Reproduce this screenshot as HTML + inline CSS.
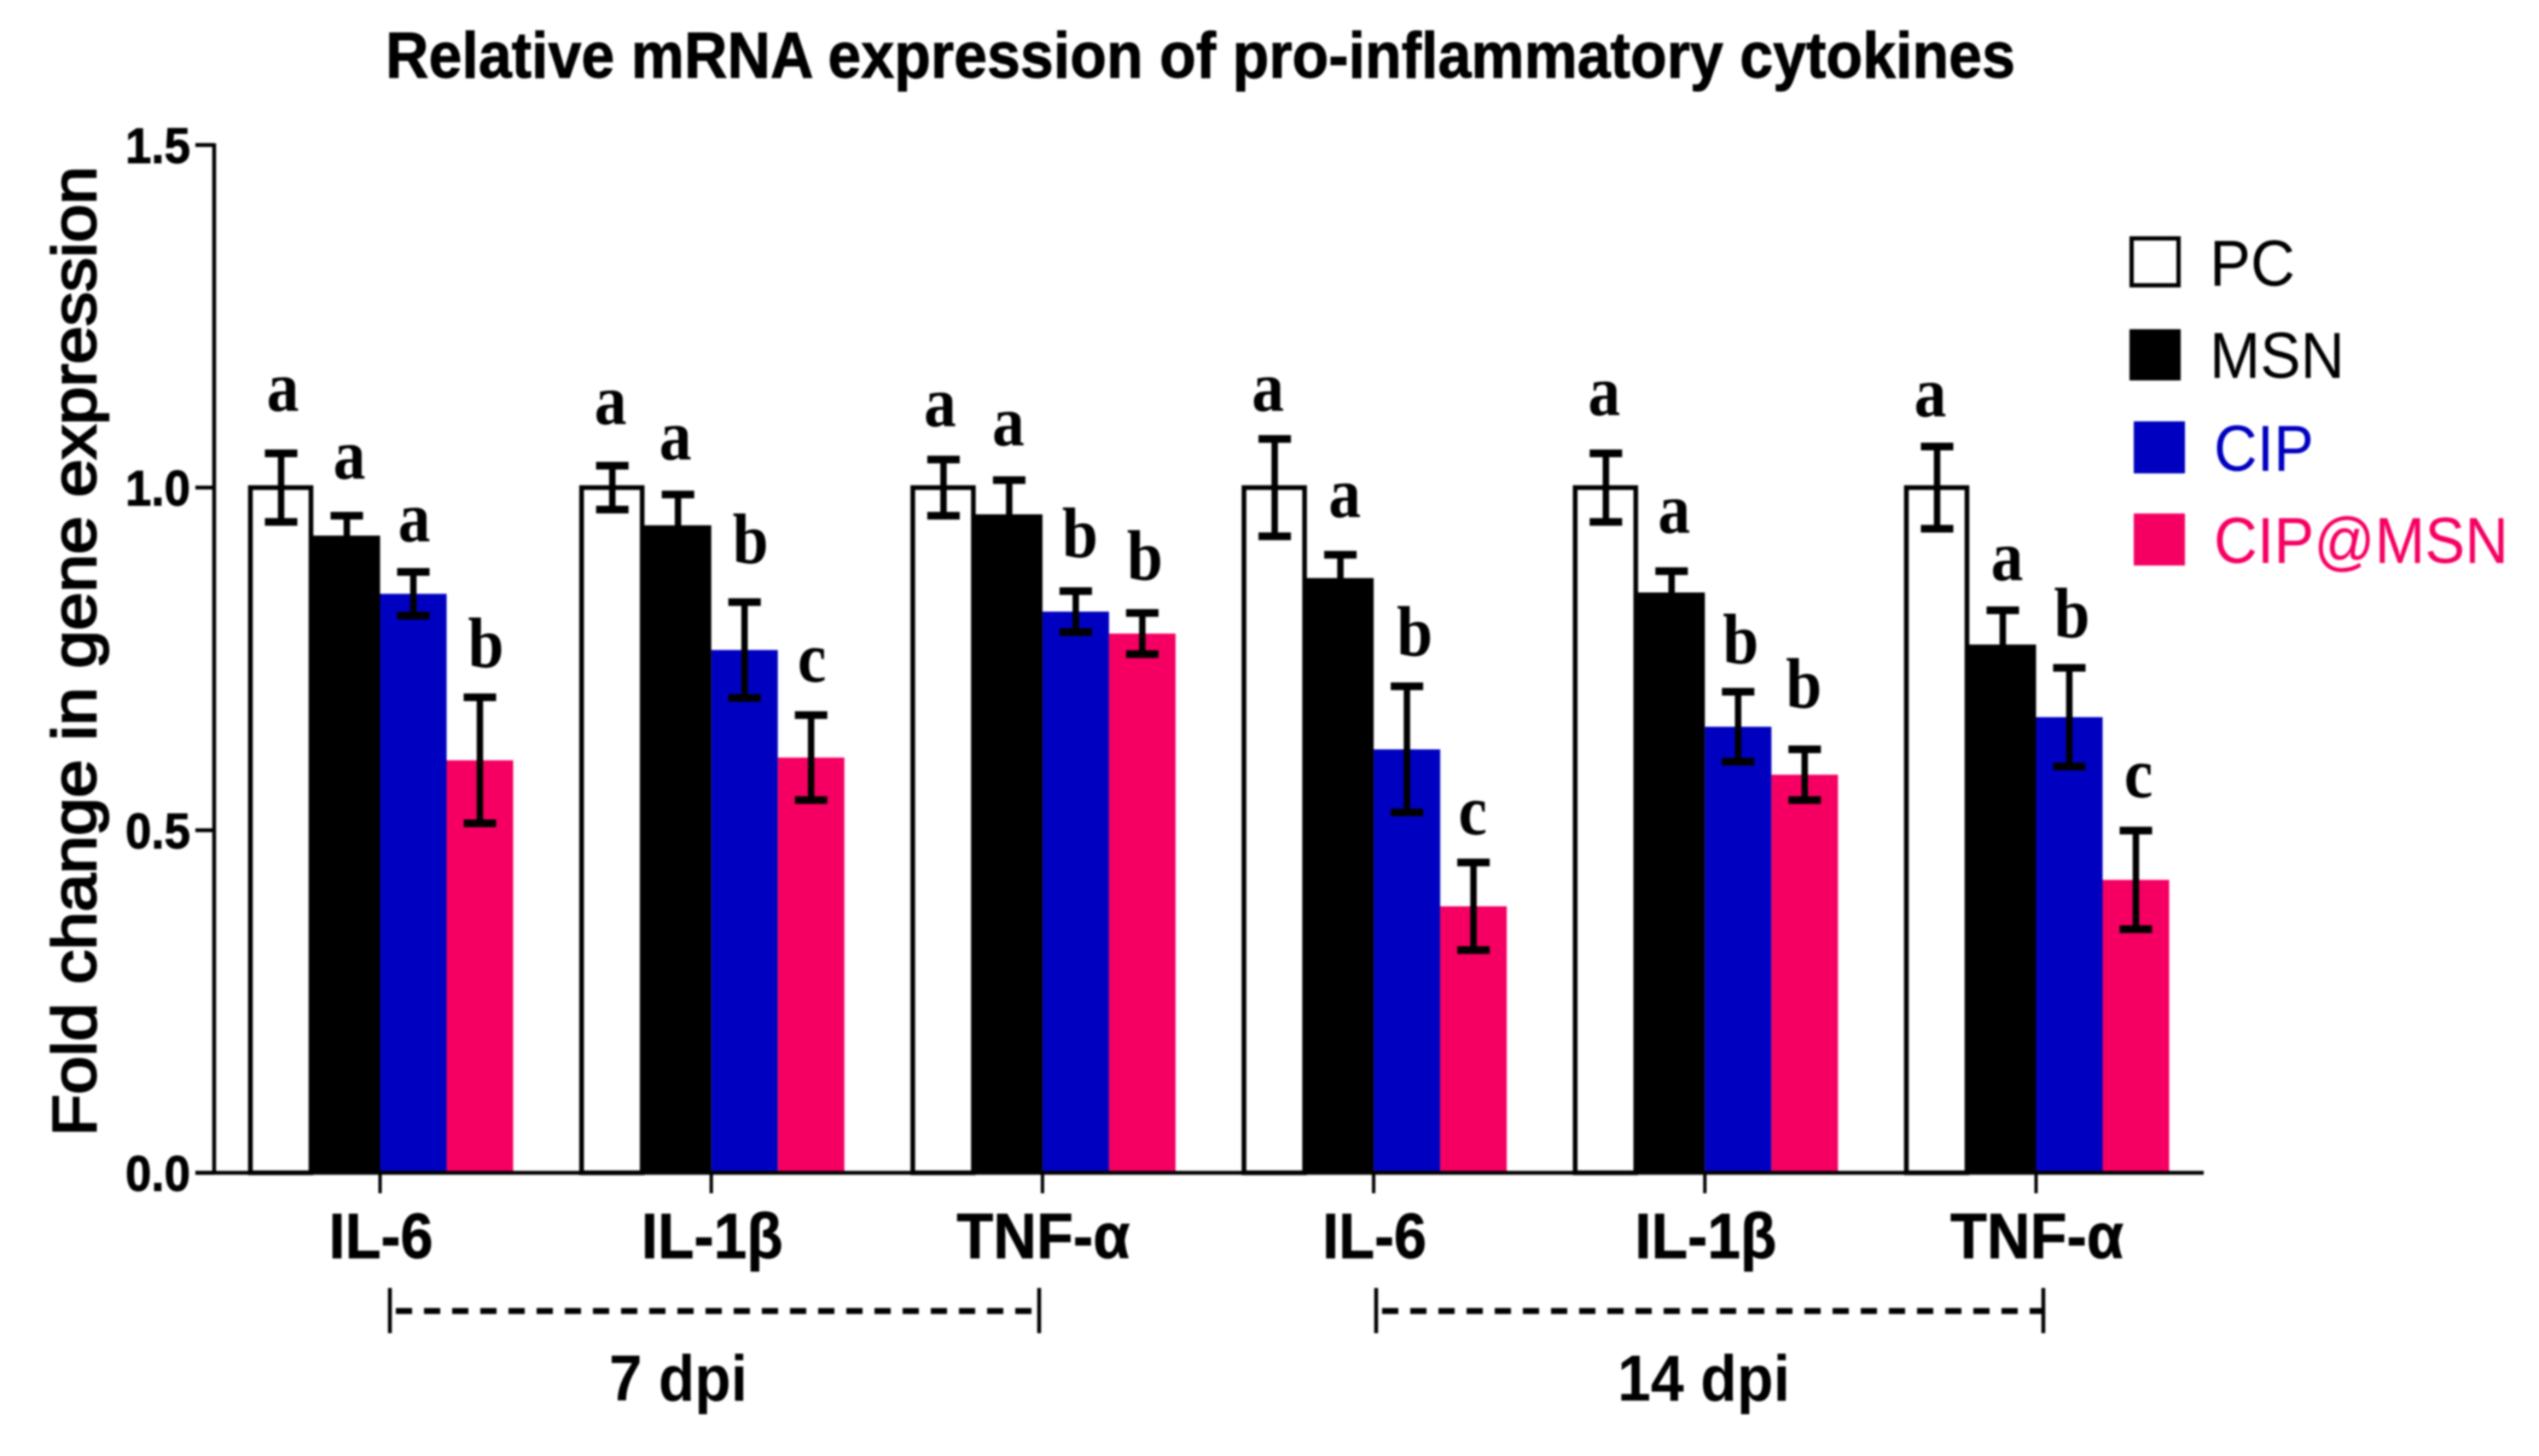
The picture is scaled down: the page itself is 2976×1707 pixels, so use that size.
<!DOCTYPE html>
<html lang="en">
<head>
<meta charset="utf-8">
<title>Relative mRNA expression of pro-inflammatory cytokines</title>
<style>
html,body{margin:0;padding:0;background:#fff;width:2976px;height:1707px;overflow:hidden}
svg{display:block;filter:blur(1px)}
text{font-family:"Liberation Sans",sans-serif;fill:#000}
</style>
</head>
<body>
<svg id="chart" xmlns="http://www.w3.org/2000/svg" width="2976" height="1707" viewBox="0 0 2976 1707">
  <rect width="2976" height="1707" fill="#fff"/>
  <text x="452" y="91" font-size="76" font-weight="700" stroke="#000" stroke-width="1" textLength="1910" lengthAdjust="spacingAndGlyphs">Relative mRNA expression of pro-inflammatory cytokines</text>
  <text transform="translate(112,1332) rotate(-90)" font-size="72" font-weight="400" stroke="#000" stroke-width="2.4" textLength="1137" lengthAdjust="spacingAndGlyphs">Fold change in gene expression</text>
  <g id="bars"></g>
  <g id="errors"></g>
  <g id="letters"></g>
  <g id="axes"></g>

  <g stroke="#000">
    <line x1="457" x2="457" y1="1510" y2="1563" stroke-width="4.5"/>
    <line x1="1218" x2="1218" y1="1510" y2="1563" stroke-width="4.5"/>
    <line x1="457" x2="1218" y1="1537" y2="1537" stroke-width="7" stroke-dasharray="19 14" stroke-dashoffset="-7"/>
  </g>
  <text x="714" y="1642" font-size="76" font-weight="700" textLength="162" lengthAdjust="spacingAndGlyphs">7 dpi</text>
  <g stroke="#000">
    <line x1="1613" x2="1613" y1="1510" y2="1563" stroke-width="4.5"/>
    <line x1="2395" x2="2395" y1="1510" y2="1563" stroke-width="4.5"/>
    <line x1="1613" x2="2395" y1="1537" y2="1537" stroke-width="7" stroke-dasharray="19 14" stroke-dashoffset="-7"/>
  </g>
  <text x="1896" y="1642" font-size="76" font-weight="700" textLength="202" lengthAdjust="spacingAndGlyphs">14 dpi</text>

  <g>
    <g>
      <rect x="2498.5" y="279.5" width="55" height="55" fill="#fff" stroke="#000" stroke-width="5"/>
      <text x="2590" y="335" font-size="76" textLength="100" lengthAdjust="spacingAndGlyphs">PC</text>
    </g>
    <g>
      <rect x="2496" y="386" width="60" height="60" fill="#000"/>
      <text x="2590" y="443" font-size="76" textLength="158" lengthAdjust="spacingAndGlyphs">MSN</text>
    </g>
    <g>
      <rect x="2501" y="494" width="60" height="61" fill="#0000C0"/>
      <text x="2595" y="552" font-size="76" style="fill:#0000C0" textLength="117" lengthAdjust="spacingAndGlyphs">CIP</text>
    </g>
    <g>
      <rect x="2501" y="602" width="60" height="61" fill="#F50062"/>
      <text x="2595" y="660" font-size="76" style="fill:#F50062" textLength="345" lengthAdjust="spacingAndGlyphs">CIP@MSN</text>
    </g>
  </g>
</svg>
<script>
// ---- chart data ----
const categories = ["IL-6", "IL-1β", "TNF-α", "IL-6", "IL-1β", "TNF-α"];
const pcValues     = [1.0, 1.0, 1.0, 1.0, 1.0, 1.0];
const msnValues    = [0.93, 0.945, 0.961, 0.868, 0.847, 0.771];
const cipValues    = [0.845, 0.763, 0.819, 0.618, 0.651, 0.665];
const cipMsnValues = [0.602, 0.606, 0.787, 0.389, 0.581, 0.4275];
const pcErrors     = [0.05, 0.032, 0.041, 0.071, 0.05, 0.06];
const msnErrors    = [0.029, 0.045, 0.05, 0.034, 0.031, 0.05];
const cipErrors    = [0.032, 0.07, 0.03, 0.092, 0.051, 0.072];
const cipMsnErrors = [0.092, 0.062, 0.03, 0.064, 0.037, 0.072];
const pcLetters     = ["a", "a", "a", "a", "a", "a"];
const msnLetters    = ["a", "a", "a", "a", "a", "a"];
const cipLetters    = ["a", "b", "b", "b", "b", "b"];
const cipMsnLetters = ["b", "c", "b", "c", "b", "c"];
// height of each letter above its error bar, in fold-change units
const pcLetterLift     = [0.062, 0.061, 0.049, 0.041, 0.056, 0.044];
const msnLetterLift    = [0.054, 0.051, 0.051, 0.055, 0.056, 0.044];
const cipLetterLift    = [0.045, 0.057, 0.05, 0.045, 0.042, 0.045];
const cipMsnLetterLift = [0.044, 0.049, 0.049, 0.041, 0.061, 0.049];
const yTickValues = [0, 0.5, 1.0, 1.5];
const yTickLabels = ["0.0", "0.5", "1.0", "1.5"];

// ---- axis functions ----
const NS = "http://www.w3.org/2000/svg";
const Y0 = 1375, Y_TOP = 170, Y_MAX = 1.5;
const X_FIRST = 445.5, X_STEP = 388.2;
function yScale(v) { return Y0 - (v / Y_MAX) * (Y0 - Y_TOP); }
function xCenter(i) { return X_FIRST + i * X_STEP; }

const seriesKeys = ["pc", "msn", "cip", "cip-msn"];
const seriesValues = [pcValues, msnValues, cipValues, cipMsnValues];
const seriesErrors = [pcErrors, msnErrors, cipErrors, cipMsnErrors];
const seriesLetters = [pcLetters, msnLetters, cipLetters, cipMsnLetters];
const seriesLift = [pcLetterLift, msnLetterLift, cipLetterLift, cipMsnLetterLift];
const seriesFill = ["#fff", "#000", "#0000C0", "#F50062"];
const barLeft  = [-152, -83, 0, 78];
const barRight = [-81, 0, 78, 156];
const errOffset = [-116, -39, 39, 117];
const letterOffset = [
  [-114, -118, -120, -124, -118, -124],
  [-36, -42, -40, -34, -36, -34],
  [40, 46, 44, 48, 42, 42],
  [124, 118, 120, 116, 116, 120]
];
const labelWidths = [122, 166, 203, 122, 166, 203];

function make(tag, attrs, parent) {
  const el = document.createElementNS(NS, tag);
  for (const k in attrs) el.setAttribute(k, attrs[k]);
  parent.appendChild(el);
  return el;
}

const barsG = document.getElementById("bars");
const errG = document.getElementById("errors");
const lettersG = document.getElementById("letters");
const axesG = document.getElementById("axes");

// bars
seriesKeys.forEach(function (key, s) {
  categories.forEach(function (cat, i) {
    const cx = xCenter(i);
    const top = yScale(seriesValues[s][i]);
    const rect = make("rect", {
      x: cx + barLeft[s],
      y: top,
      width: barRight[s] - barLeft[s],
      height: Y0 - top,
      fill: seriesFill[s],
      stroke: s === 0 ? "#000" : "none",
      "stroke-width": s === 0 ? 5.5 : 0
    }, barsG);
    
    
  });
});

// error bars
seriesKeys.forEach(function (key, s) {
  categories.forEach(function (cat, i) {
    const ex = xCenter(i) + errOffset[s];
    const v = seriesValues[s][i], e = seriesErrors[s][i];
    const yHi = yScale(v + e), yLo = yScale(v - e);
    const g = make("g", { stroke: "#000" }, errG);
    
    
    make("line", { x1: ex, x2: ex, y1: yHi, y2: yLo, "stroke-width": 7.5 }, g);
    make("line", { x1: ex - 19, x2: ex + 19, y1: yHi, y2: yHi, "stroke-width": 9 }, g);
    make("line", { x1: ex - 19, x2: ex + 19, y1: yLo, y2: yLo, "stroke-width": 9 }, g);
  });
});

// significance letters
seriesKeys.forEach(function (key, s) {
  categories.forEach(function (cat, i) {
    const lx = xCenter(i) + letterOffset[s][i];
    const v = seriesValues[s][i], e = seriesErrors[s][i];
    const ly = yScale(v + e + seriesLift[s][i]);
    const t = make("text", {
      transform: "translate(" + lx + "," + ly + ") scale(0.9,1)",
      "text-anchor": "middle",
      "font-size": 84,
      "font-weight": 700,
      style: 'font-family:"Liberation Serif",serif'
    }, lettersG);
    t.textContent = seriesLetters[s][i];
    
    
  });
});

// y axis
const yAxisLine = make("line", { x1: 251, x2: 251, y1: Y_TOP - 2, y2: Y0 + 2, stroke: "#000", "stroke-width": 4.5 }, axesG);


yTickValues.forEach(function (v, i) {
  const tick = make("line", { x1: 229, x2: 251, y1: yScale(v), y2: yScale(v), stroke: "#000", "stroke-width": 4.5 }, axesG);
  
  
  const label = make("text", {
    x: 147, y: yScale(v) + 21, "font-size": 58, "font-weight": 700,
    stroke: "#000", "stroke-width": 1,
    textLength: 76, lengthAdjust: "spacingAndGlyphs"
  }, axesG);
  label.textContent = yTickLabels[i];
  
  
});

// x axis
const xAxisLine = make("line", { x1: 229, x2: 2583, y1: Y0, y2: Y0, stroke: "#000", "stroke-width": 4.5 }, axesG);


categories.forEach(function (cat, i) {
  const cx = xCenter(i);
  const tick = make("line", { x1: cx, x2: cx, y1: Y0, y2: 1399, stroke: "#000", "stroke-width": 4 }, axesG);
  
  
  const label = make("text", {
    x: cx - labelWidths[i] / 2 + 1, y: 1475, "font-size": 75, "font-weight": 700,
    stroke: "#000", "stroke-width": 0.8,
    textLength: labelWidths[i], lengthAdjust: "spacingAndGlyphs"
  }, axesG);
  label.textContent = cat;
  
  
});
</script>
</body>
</html>
